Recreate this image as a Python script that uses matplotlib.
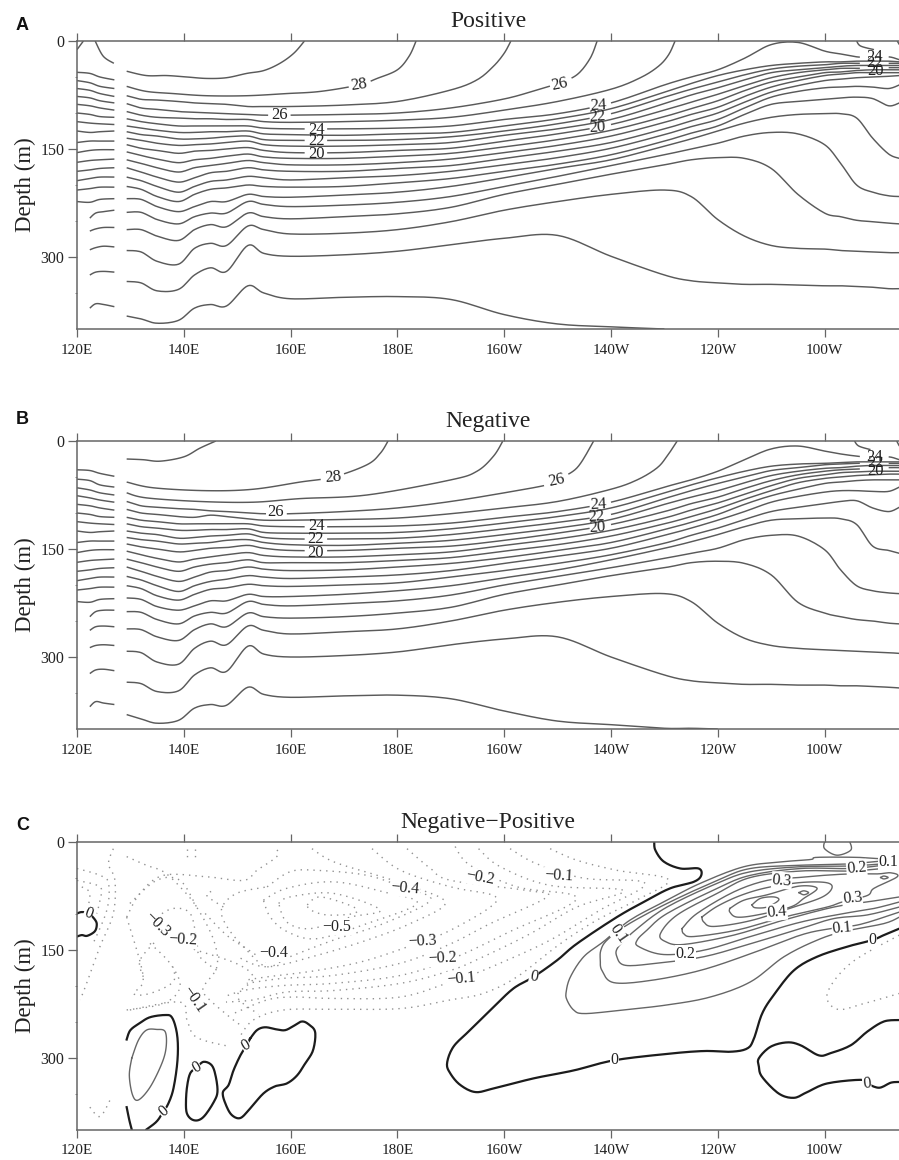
import numpy as np
import matplotlib
matplotlib.use("Agg")
import matplotlib.pyplot as plt

N = float('nan')
LON = [129.3,132,135,139,142,145,148,152,155,160,170,180,190,200,210,220,230,235,240,245,250,255,260,263,266,269,272,274]
TICK_LONS = [120,140,160,180,200,220,240,260]
TICK_NAMES = ['120E','140E','160E','180E','160W','140W','120W','100W']
DEPTH_TICKS = [0,150,300]

# ---- Panel A isotherm depths (m) on LON
A_T9  = [382,386,392,388,371,366,368,340,350,358,356,355,359,380,393,397,400,N,N,N,N,N,N,N,N,N,N,N]
A_T10 = [334,336,347,345,325,315,320,284,295,299,297,292,283,274,270,299,325,333,336,338,338,339,340,340,341,342,344,344]
A_T11 = [291,293,306,310,288,281,284,257,262,268,267,262,251,235,223,213,207,216,248,271,284,288,289,291,292,293,294,294]
A_T12 = [262,262,271,277,262,255,258,239,244,247,244,240,231,213,199,185,172,165,162,163,177,213,239,244,249,251,253,254]
A_T13 = [238,238,248,254,244,239,239,223,227,230,228,224,216,202,188,173,158,150,142,132,127,129,144,170,200,210,215,216]
A_T14 = [219,220,230,237,230,223,223,213,216,217,214,210,202,190,177,165,146,136,125,114,106,102,101,101,107,135,157,163]
A_T15 = [202,206,216,223,213,206,204,200,202,203,202,197,191,181,171,158,139,128,118,102,88,84,81,79,78,80,90,86]
A_T16 = [189,194,202,210,202,195,193,188,190,193,190,187,181,172,162,149,130,119,109,93,78,70,65,64,63,64,66,61]
A_T17 = [176,182,189,196,190,183,181,176,179,181,181,177,173,163,153,141,122,111,100,85,71,62,55,53,51,50,49,48]
A_T18 = [165,170,176,182,176,173,170,166,169,172,172,169,164,155,145,132,113,102,92,77,64,55,48,46,44,44,44,44]
A_T19 = [154,159,164,169,165,163,160,157,161,163,163,160,156,147,137,124,105,94,83,69,57,50,44,43,41,40,40,40]
A_T20 = [144,149,152,156,153,152,150,148,152,155,155,152,149,139,129,116,96,85,74,62,51,44,40,38,38,37,37,37]
A_T21 = [135,138,142,145,144,143,141,139,144,146,146,144,141,131,122,109,87,75,65,54,44,40,37,35,34,34,34,34]
A_T22 = [126,130,132,136,136,135,133,132,137,138,138,137,133,125,115,101,78,67,57,47,39,35,33,31,31,31,31,31]
A_T23 = [118,121,124,127,127,126,126,125,129,130,131,129,127,118,108,94,71,59,48,40,34,31,29,29,28,28,28,29]
A_T24 = [108,112,115,118,118,118,118,118,121,122,122,121,118,109,101,86,61,50,40,24,5,2,14,18,22,23,22,26]

# ---- Panel B isotherm depths (m) on LON
B_T9  = [380,386,392,388,371,366,367,342,352,356,354,353,358,375,389,394,399,399,400,N,N,N,N,N,N,N,N,N]
B_T10 = [335,337,348,347,325,315,320,285,296,300,298,293,283,275,272,300,325,333,336,338,338,339,339,340,340,341,342,343]
B_T11 = [292,294,307,310,288,278,283,257,263,268,265,261,250,235,224,216,212,223,253,274,284,288,290,291,292,293,294,295]
B_T12 = [261,262,272,277,262,254,258,239,244,246,244,239,231,213,200,187,176,169,167,170,186,224,239,244,248,250,253,254]
B_T13 = [237,238,248,254,243,238,239,223,227,229,226,222,214,200,188,176,163,156,149,137,131,132,151,179,201,208,211,212]
B_T14 = [218,220,230,235,229,222,222,213,216,216,213,208,201,190,179,165,149,140,130,119,110,108,107,108,116,146,152,156]
B_T15 = [201,205,215,221,213,206,204,199,201,202,200,197,189,180,170,158,142,131,121,109,98,92,87,84,83,93,98,92]
B_T16 = [188,193,201,209,201,195,192,187,189,191,189,186,180,170,160,149,131,121,110,98,85,77,71,69,69,70,70,64]
B_T17 = [175,181,188,195,189,182,180,175,178,180,179,175,170,162,152,141,123,113,102,88,76,67,59,57,55,54,54,54]
B_T18 = [164,169,175,181,175,171,169,165,169,169,169,166,162,153,144,132,115,105,94,81,69,58,52,50,48,47,46,46]
B_T19 = [153,158,163,168,164,161,158,155,159,161,161,158,154,145,136,124,107,96,86,74,62,52,47,44,43,42,42,42]
B_T20 = [143,147,150,154,152,149,148,145,149,152,152,149,146,138,128,116,98,87,78,66,55,47,42,40,39,38,37,37]
B_T21 = [134,137,139,143,142,141,138,137,141,144,145,142,138,130,121,109,88,78,69,58,48,42,38,37,35,34,34,34]
B_T22 = [125,128,130,135,134,132,131,129,134,136,136,135,130,122,113,102,80,69,59,50,41,37,33,32,31,31,31,31]
B_T23 = [115,119,121,124,124,123,123,122,127,128,128,127,122,114,105,93,72,61,51,42,35,32,31,30,29,29,29,29]
B_T24 = [106,110,112,115,115,115,115,115,118,119,119,118,114,106,98,85,64,54,42,26,11,7,14,18,21,23,22,26]

# ---- warm isotherms that reach the surface: lon, depth
A_T25_LON = LON[:13]+[200,210,220,225.5,228.9,230.8,232]
A_T25_D = [98,103,106,107,108,108,109,109,112,113,112,110,106,96,84,67,51,35,19,0]
A_T26_LON = LON[:13]+[200,206.1,210,213.6,216.1,217.4]
A_T26_D = [87,93,95,98,99,100,101,102,103,103,102,100,93,80.5,68,59,47,24,0]
A_T27_LON = LON[:13]+[194.9,198,200,201.25]
A_T27_D = [76,81,82,84,86,87,88,91,91,91,89,84,68,54,35,17,0]
A_T28_LON = [129.3,133,138,144.3,151.8,159.3,165.6,172.8,176.2,180,182.2,183.5]
A_T28_D = [63,70,73,76,76,73,70,61,52,40,21,0]
A_T29_LON = [129.3,133,136.8,140.6,144.3,148,151.8,155,158,160.6,162.6]
A_T29_D = [42,48,48,50,52,51,45,41,31,17,0]

B_T25_LON = LON[:13]+[200,210,220,224.9,228.6,230.5,232.4]
B_T25_D = [95,100,102,105,106,103,105,108,110,110,109,107,101,93,84,67,54,37.5,21,0]
B_T26_LON = LON[:13]+[200,208,209.75,213.6,216.75]
B_T26_D = [84,90,92,94,95,97,98,100,101,101,98,93,84,72,61,54,37.5,0]
B_T27_LON = [129.3,133,143,153,161.8,174.3,190,194.9,198,199.75]
B_T27_D = [72,79,84,85,80,75,54,42,21,0]
B_T28_LON = [129.3,134.3,144.3,153,161.8,168,174.3,176.8,178.25]
B_T28_D = [57,65,69,67,57,50,33,17,0]
B_T29_LON = [129.3,132.4,135.6,140,143,146]
B_T29_D = [25,26,28,22,10,0]

# ---- short pieces west of the gap
WEST_LON = [120,122.4,124.3,127]
SHORT_LON = [122.4,123.5,125,127]
WEST_LOWER = [[88,90,93,96],[100,102,105,106],[112,114,115,116],[125,127,126,125],[141,139,139,139],
              [155,152,151,151],[168.5,166,165,164],[181,179,177,176],[194,191,189,189],[207,205,203,203],[223,224,220,219]]
A_WEST = [[43.5,45,50,54],[55,58,63,66],[66,68.5,73,77],[77,79,83,86]]
B_WEST = [[40,41,45,49],[53,55,61,64],[65,68,72,75],[76,79,82,85]]
A_SHORT = [[246,239,237,235],[264,261,259,259],[290,287,285,286],[325,321,320,321],[371,365,366,369]]
B_SHORT = [[244,237,235,235],[263,258,257,258],[287,284,283,284],[323,318,317,319],[369,362,364,366]]
A_CORNERS = [([120,121.2],[12,0]),([123.4,124.9,126.9],[0,21,31]),([266,266.75,269.25],[0,7,12]),([273.6,274],[0,5])]
B_CORNERS = [([265.6,266.4,268.6],[0,7,12]),([273.5,274],[0,7])]

# ---- isotherm labels: text, lon, depth, angle
A_LABELS = [('28',172.8,60.6,8),('26',157.9,103,0),('26',210.4,60.6,12),('24',164.9,123,0),('22',164.9,139,0),('20',164.8,156.5,0),
            ('24',217.7,90,3),('22',217.4,105.5,3),('20',217.4,120,3),('24',269.4,22,0),('22',269.4,31,0),('20',269.6,41,0)]
B_LABELS = [('28',168,50,5),('26',209.75,55,12),('26',157.25,98,0),('24',164.9,118.5,0),('22',164.7,136,0),('20',164.7,155,0),
            ('24',217.6,88,3),('22',217.3,105,3),('20',217.4,120,3),('24',269.4,22,0),('22',269.5,31,0),('20',269.5,41,0)]

# ---- Panel C: zero contours
Z1 = [(120,100),(120.9,98),(122.2,100),(123.4,109),(123.7,116),(123.3,125),(121.9,131),(120.9,130),(120,132)]
Z2A = [(129.3,275),(130,262),(131.8,252),(133.7,244),(136.5,241),(137.75,244),(138.6,262),(138.9,285),(138.7,313),(138,345),(137.1,364),(136.2,375),(134.9,389),(133,400)]
Z2B = [(129.3,369),(129.8,387),(130.25,400)]
Z3 = [(142.4,314),(141.2,322),(140.6,341),(140.4,364),(140.6,378),(141.5,386),(142.75,387),(144,380),(145.6,362),(146.3,348),(146,327),(145.25,311),(143.7,306),(142.4,314)]
Z4 = [(152.4,274),(153.7,262),(155.25,258),(157.4,261),(159,262),(160.6,256),(162.1,250),(163.4,254),(164.6,265),(164.2,290),(162.75,308),(161.2,325),(159.3,336),(157.1,340),(154.9,350),(152.4,371),(150.6,384),(149,380),(147.9,366),(147.3,349),(148.4,338),(149.3,318),(150.6,297),(151.7,284),(152.4,274)]
Z5 = [(228.1,0),(228.3,12),(229.9,28),(233,37.5),(236.4,37.5),(236.9,47),(235.5,56),(231.1,65),(226.75,81.5),(221.1,105),(213.6,142),(209.9,165),(205.5,188),(201.75,204),(198,230),(193.6,262),(190.5,285),(189.3,308),(189.9,322),(191.75,338),(194.6,348),(198,343),(205.5,329),(213,318),(220.5,304),(230.5,295),(237.4,291),(242.4,292),(245.5,287.5),(246.75,274),(248.3,239),(250.5,213),(254.25,179),(258.6,160),(264.25,146),(268.9,137),(271.1,130),(274,121)]
Z6 = [(274,334),(272.4,335),(270.2,342),(267.9,336),(266.75,331),(260.5,336),(256.75,348),(254.25,356),(251.4,350),(248.3,327),(247.7,313),(247.7,301),(249.9,285),(253,279),(255.5,283),(258.9,297),(261.1,294),(264.9,283),(268,264),(271.1,250),(274,248)]
ZEROS = [Z1,Z2A,Z2B,Z3,Z4,Z5,Z6]

# ---- Panel C: positive contours
LOOP_TOP = [(260,0),(260,10),(262.3,19),(264.9,12),(264.7,0)]
P_IN = [(130.25,301),(131.5,276),(133,262),(134.9,261),(136.5,264),(136.7,285),(135.9,308),(133.7,341),(131.5,359),(130.4,352),(129.8,325),(130.25,301)]
P1 = [(274,22),(271,24),(266,22),(258.6,22),(257.4,25),(252.4,28),(244.9,35),(236.75,58),(230.5,81.5),(223.6,109),(218.6,139),(214.9,160),(212.4,188),(211.6,209),(211.75,220),(213,234),(214.9,239),(221.1,235),(230.5,227),(238.6,216),(246.1,195),(252.4,160),(258.6,137),(263.6,125),(271.1,114),(274,105)]
P2 = [(274,28),(271.1,27),(264.9,31),(255.5,33),(246.1,37.5),(239.9,54),(230.5,86),(223,116),(219.25,137),(218.1,151),(218,165),(218.3,179),(220.5,196),(227.4,193),(236.75,179),(246.1,156),(255.5,130),(261.1,121),(266.75,115),(274,98)]
P3 = [(274,31),(271.1,31),(264.9,34),(255.5,35),(246.1,42),(239.9,58),(230.5,91),(224.9,121),(221.4,146),(221.1,160),(222.7,172),(228.6,169),(237.4,160),(246.1,142),(255.5,121),(261.75,107),(268,102),(274,91)]
P4 = [(274,33),(271.1,33),(264.9,37.5),(255.5,37.5),(246.1,47),(239.9,65),(230.5,100),(226.75,123),(224.9,137),(225.2,146),(229.9,157),(237.4,151),(246.1,132),(255.5,112),(263.6,100),(269.25,93),(274,84)]
P5 = [(274,37.5),(271.1,37.5),(264.9,41),(255.5,41),(246.1,50),(239.9,72),(232.4,102),(229.25,128),(230.2,139),(233.6,143),(243,130),(252.4,109),(261.75,91),(268,84),(274,77)]
P6 = [(233.3,121),(236.1,100),(243,70),(249.25,54),(255.2,50),(259.9,47),(264.9,45),(269.9,45),(272.4,43.5),(273.6,49),(269.25,65),(268,75),(263.3,84),(260.5,91),(252.4,105),(243.6,123),(235.5,132),(233.6,128),(233.3,121)]
P7 = [(237,105),(239.9,90),(244.25,75),(249.25,64),(255.5,57),(260.2,57),(261.4,64),(259.6,77),(254.25,91),(246.1,110),(239.25,118),(237.4,112),(237,105)]
P8 = [(242.25,93),(244.9,81.5),(249.25,74),(255.2,62),(258.6,65),(256.1,79),(253.6,91),(247.4,102),(243.6,105),(242.25,98),(242.25,93)]
P9 = [(246.4,88),(248,79),(250.5,77),(251.4,81.5),(249.25,91),(247,92),(246.4,88)]
P10 = [(255.2,71),(256.1,68.5),(257,71),(256.1,74),(255.2,71)]
P11 = [(270.5,50),(271.1,48),(271.9,50),(271.1,52),(270.5,50)]
POSITIVES = [LOOP_TOP,P_IN,P1,P2,P3,P4,P5,P6,P7,P8,P9,P10,P11]

# ---- Panel C: negative contours
D1 = [(208.6,10),(213.6,26),(221.1,40),(230.8,53),(224.9,81),(217.4,109),(210.5,142),(202.4,188),(196.1,211),(189.9,220),(180.6,232),(168,233),(158.7,234),(153,248),(150.25,274)]
D2 = [(201.1,10),(206.1,31),(214.9,51),(226.4,58),(218,95),(208.6,137),(199.25,169),(192,191),(190,195),(180.6,216),(168,218),(160.6,216),(155.6,220),(149.3,239)]
D3 = [(195.2,10),(199.25,35),(208.6,61),(222.4,68),(213.6,91),(204.9,128),(196.1,160),(190,179),(180.6,197),(168,207),(159.3,209),(153,220),(147.9,223)]
D4 = [(190.8,7),(193.6,33),(202.4,63),(213.6,79),(201.1,125),(190.5,162),(180.6,186),(168,197),(158.7,200),(151.8,206),(147.4,216)]
D5 = [(181.8,10),(186.2,37.5),(190,54),(204.25,68),(208,77),(197.4,114),(190,142),(180.6,169),(168,186),(158.7,190),(151.8,197)]
D6 = [(175.25,10),(180.6,40),(190,63),(198,75),(197.4,91),(190,123),(184.6,139),(174.3,165),(165,179),(155.6,188),(151.2,193)]
D7 = [(164,10),(168,28),(176.2,47),(183.7,65),(189,86),(182.4,114),(174.3,137),(165,158),(155.6,174),(150,160)]
D8 = [(155.6,63),(159.9,42),(164.9,40),(174.3,47),(181.5,65),(186.2,81.5),(177.4,114),(168,137),(159.9,160),(155.6,174),(151.8,151),(148.1,118.5),(147.1,93),(149.9,72),(155.6,63)]
D9 = [(154.9,81.5),(159.3,65),(168,56),(177.4,70),(183.7,86),(174.3,114),(164.9,135),(159.3,125),(156.2,105),(154.9,81.5)]
D10 = [(157.75,86),(159.9,77),(168,72),(176.8,95),(171.2,105),(163.7,121),(159.3,112),(157.75,86)]
D11 = [(163.1,88),(165.6,77),(171.8,91),(171.8,100),(166.8,102),(163.7,95),(163.1,88)]
E1 = [(126.8,10),(125.9,31),(127.1,54),(126.8,100),(124.3,146),(121.8,197),(120.6,220)]
E2 = [(120,37.5),(124.3,47),(125.9,58),(125.6,95),(123,142)]
E3 = [(120,54),(124.3,63),(124.3,81.5),(123.7,100)]
E4 = [(120.9,63),(122.4,72),(121.8,100)]
E5 = [(129.3,21),(133,33),(136.2,42),(139.3,63),(142.4,91),(145.6,137),(146.2,174),(143.7,202),(144.3,216),(149.3,248),(151.2,257)]
E6 = [(129.3,234),(136.2,225),(139.3,202),(137.4,169),(133,137)]
E7 = [(129.9,234),(139.3,223),(140.6,248),(142.4,272),(148.7,285)]
E8 = [(129.3,105),(131.8,72),(136.2,47),(144.3,49),(151.2,54),(153.7,40),(157.4,21),(157.4,10)]
E9 = [(129.9,86),(134.9,54),(139.3,54),(142.4,91)]
E10 = [(129.3,105),(132.4,188),(130.6,211),(133.7,211),(138,195),(138,174)]
E11 = [(140.6,10),(140.6,21)]
E12 = [(142.1,10),(142.1,21)]
E13 = [(122.4,369),(124.3,382),(126.2,359)]
E14 = [(134.9,105),(138,93),(141.2,100),(142.4,137),(143,160),(146.2,179)]
E15 = [(147.4,91),(144.3,75),(145.6,68)]
E16 = [(132.4,188),(131.8,165),(134.9,137)]
E17 = [(137.4,137),(142,150),(150,170),(153,190),(150,215),(154,240)]
E18 = [(144,100),(148,130),(152,150),(156,170)]
E19 = [(274,130),(264.9,169),(260.5,211),(262.4,233),(267.4,225),(274,211)]
NEGATIVES = [D1,D2,D3,D4,D5,D6,D7,D8,D9,D10,D11,E1,E2,E3,E4,E5,E6,E7,E8,E9,E10,E11,E12,E13,E14,E15,E16,E17,E18,E19]

C_LABELS = [('0',122.1,100,-20),('\u22120.3',135,115,-45),('\u22120.2',139.8,137,-3),('\u22120.1',141.8,219,-55),('\u22120.4',156.8,155.5,0),
            ('\u22120.5',168.7,118.5,0),('\u22120.4',181.5,65,-5),('\u22120.3',184.6,139,3),('\u22120.2',188.5,162,3),('\u22120.1',192,191,5),
            ('\u22120.2',195.5,50,-10),('\u22120.1',210.2,47,-3),('0',205.5,188,-10),('0.1',221.4,128,-55),('0.2',233.9,156,0),
            ('0',151.7,284,30),('0',142.4,314,30),('0',136.2,375,40),('0',220.6,304,0),('0',268.9,137,0),('0',267.9,336,5),
            ('0.1',263.3,121,5),('0.2',266,37,5),('0.1',272,29,0),('0.3',252,54,-5),('0.3',265.2,79,5),('0.4',251.1,98,5)]

SERIF = 'Liberation Serif'
LINE = '#5a5a5a'
W, H = 899, 1160
fig = plt.figure(figsize=(W/100, H/100), dpi=100)
fig.patch.set_facecolor('white')


def smooth(x, y, n=10):
    x = np.asarray(x, float); y = np.asarray(y, float)
    if len(x) < 3:
        return x, y
    px = np.r_[x[0], x, x[-1]]; py = np.r_[y[0], y, y[-1]]
    t = np.linspace(0, 1, n, endpoint=False)[:, None]
    def cr(p):
        p0, p1, p2, p3 = p[:-3][None], p[1:-2][None], p[2:-1][None], p[3:][None]
        v = 0.5*(2*p1 + (p2-p0)*t + (2*p0-5*p1+4*p2-p3)*t**2 + (3*p1-p0-3*p2+p3)*t**3)
        return v.T.ravel()
    return np.r_[cr(px), x[-1]], np.r_[cr(py), y[-1]]


def draw(ax, x, y, gaps=(), **kw):
    x = np.asarray(x, float); y = np.asarray(y, float)
    ok = ~np.isnan(y)
    sx, sy = smooth(x[ok], y[ok])
    for a, b in gaps:
        sy = np.where((sx > a) & (sx < b), np.nan, sy)
    ax.plot(sx, sy, **kw)


def pairs(ax, pts, **kw):
    draw(ax, [p[0] for p in pts], [p[1] for p in pts], **kw)


def frame(top, title, letter, letter_y):
    ax = fig.add_axes([77/W, 1-(top+288)/H, 822/W, 288/H])
    ax.set_xlim(120, 120+822/5.34)
    ax.set_ylim(400, 0)
    ax.spines['right'].set_visible(False)
    for s in ax.spines.values():
        s.set_color('#666666'); s.set_linewidth(1.1)
    ax.set_xticks(TICK_LONS); ax.set_xticklabels(TICK_NAMES, family=SERIF, fontsize=11, color='#222222')
    ax.set_yticks(DEPTH_TICKS); ax.set_yticklabels([str(v) for v in DEPTH_TICKS], family=SERIF, fontsize=11.5, color='#222222')
    ax.set_yticks([50,100,200,250,350], minor=True)
    ax.tick_params(axis='x', which='major', top=True, direction='out', length=5.8, width=0.9, color='#666666', pad=5)
    ax.tick_params(axis='y', which='major', direction='out', length=6.2, width=0.9, color='#666666', pad=3)
    ax.tick_params(axis='y', which='minor', direction='out', length=1.8, width=0.7, color='#888888')
    ax.set_ylabel('Depth (m)', family=SERIF, fontsize=16.5, color='#222222')
    ax.yaxis.set_label_coords(-0.05, 0.5)
    ax.set_title(title, family=SERIF, fontsize=17, color='#222222', pad=10)
    fig.text(16/W, 1-(letter_y+1.5)/H, letter, family='Liberation Sans', fontweight='bold', fontsize=13, va='center', ha='left', color='#111111')
    return ax


def isotherms(ax, rows, surf, west, short, corners, labels, gaps):
    kw = dict(color=LINE, lw=1.05, solid_capstyle='butt')
    for name, row in rows.items():
        draw(ax, LON, row, gaps=gaps.get(name, ()), **kw)
    for name, (lo, de) in surf.items():
        draw(ax, lo, de, gaps=gaps.get(name, ()), **kw)
    for row in west + WEST_LOWER:
        draw(ax, WEST_LON, row, **kw)
    for row in short:
        draw(ax, SHORT_LON, row, **kw)
    for lo, de in corners:
        draw(ax, lo, de, **kw)
    for txt, lo, de, ang in labels:
        ax.text(lo, de, txt, family=SERIF, fontsize=12, ha='center', va='center', rotation=ang, color='#222222')


three = [(163.3,166.6),(216,219.4),(266.6,272)]
ax = frame(41, 'Positive', 'A', 24)
isotherms(ax,
          {9:A_T9,10:A_T10,11:A_T11,12:A_T12,13:A_T13,14:A_T14,15:A_T15,16:A_T16,17:A_T17,18:A_T18,19:A_T19,20:A_T20,21:A_T21,22:A_T22,23:A_T23,24:A_T24},
          {25:(A_T25_LON,A_T25_D),26:(A_T26_LON,A_T26_D),27:(A_T27_LON,A_T27_D),28:(A_T28_LON,A_T28_D),29:(A_T29_LON,A_T29_D)},
          A_WEST, A_SHORT, A_CORNERS, A_LABELS,
          {20:three,22:three,24:three,26:[(156,159.6),(208.6,212.4)],28:[(171,174.8)]})
ax = frame(441, 'Negative', 'B', 418)
isotherms(ax,
          {9:B_T9,10:B_T10,11:B_T11,12:B_T12,13:B_T13,14:B_T14,15:B_T15,16:B_T16,17:B_T17,18:B_T18,19:B_T19,20:B_T20,21:B_T21,22:B_T22,23:B_T23,24:B_T24},
          {25:(B_T25_LON,B_T25_D),26:(B_T26_LON,B_T26_D),27:(B_T27_LON,B_T27_D),28:(B_T28_LON,B_T28_D),29:(B_T29_LON,B_T29_D)},
          B_WEST, B_SHORT, B_CORNERS, B_LABELS,
          {20:three,22:three,24:three,26:[(155.4,159),(207.8,211.6)],28:[(166,170)]})

ax = frame(841.5, 'Negative\u2212Positive', 'C', 824)
for pts in NEGATIVES:
    pairs(ax, pts, color='#929292', lw=1.0, linestyle=(0, (1, 3.6)))
for pts in POSITIVES:
    pairs(ax, pts, color='#666666', lw=1.0)
for pts in ZEROS:
    pairs(ax, pts, color='#1c1c1c', lw=1.6)
for txt, lo, de, ang in C_LABELS:
    ax.text(lo, de, txt, family=SERIF, fontsize=11.5, ha='center', va='center', rotation=ang, color='#222222',
            bbox=dict(facecolor='white', edgecolor='none', pad=0.4))

fig.savefig('out.png', dpi=100, facecolor='white')
